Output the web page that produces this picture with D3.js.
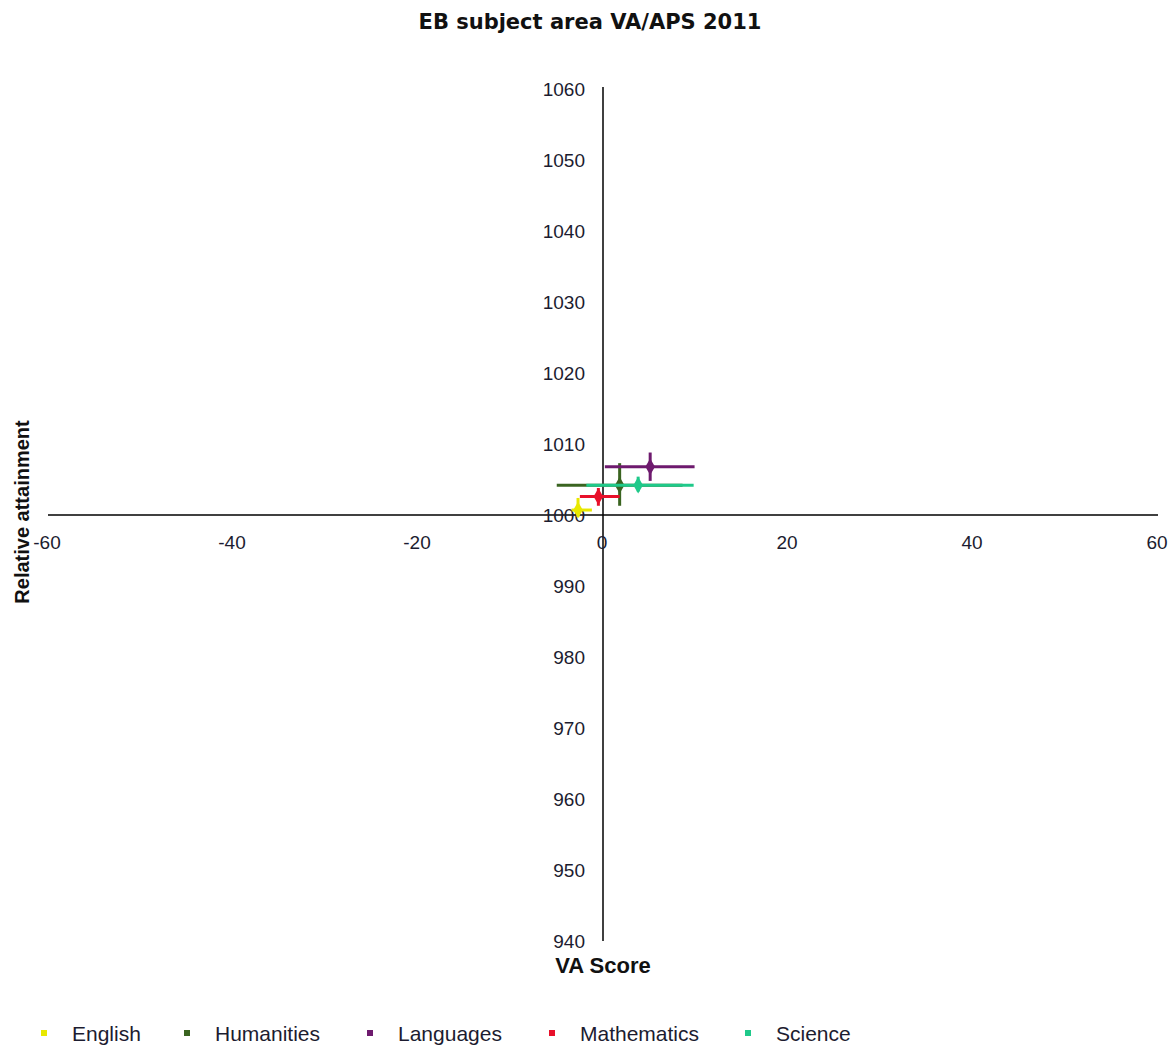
<!DOCTYPE html>
<html><head><meta charset="utf-8">
<script src="https://cdn.jsdelivr.net/npm/d3@7"></script>
<style>body{margin:0;background:#fff}svg{display:block}</style>
</head><body>
<script>
const subjects = ["English","Humanities","Languages","Mathematics","Science"];
const colors = ["#e8e800","#3a6420","#6e1a6e","#e8102a","#1fc98a"];
const vaScore = [-2.7, 1.8, 5.1, -0.5, 3.8];
const attainment = [1000.7, 1004.2, 1006.8, 1002.6, 1004.2];
const vaLow = [-3.4, -5.0, 0.2, -2.5, -1.8];
const vaHigh = [-1.2, 8.6, 9.9, 1.8, 9.8];
const attLow = [999.7, 1001.3, 1004.8, 1001.3, 1003.3];
const attHigh = [1002.4, 1007.3, 1008.8, 1003.8, 1005.4];
const xTicks = [-60,-40,-20,0,20,40,60];
const yTicks = [940,950,960,970,980,990,1000,1010,1020,1030,1040,1050,1060];

const W=1171,H=1047;
const svg=d3.select("body").append("svg").attr("width",W).attr("height",H);
const x=d3.scaleLinear().domain([-60,60]).range([48,1158]);
const y=d3.scaleLinear().domain([940,1060]).range([941,89]);

svg.append("text").attr("x",590).attr("y",29).attr("text-anchor","middle")
 .attr("font-family","DejaVu Sans").attr("font-weight","bold").attr("font-size",21)
 .attr("fill","#111").text("EB subject area VA/APS 2011");

svg.append("line").attr("x1",x(-60)).attr("x2",x(60)).attr("y1",y(1000)).attr("y2",y(1000)).attr("stroke","#000").attr("stroke-width",1.5);
svg.append("line").attr("x1",x(0)).attr("x2",x(0)).attr("y1",y(1060)-2).attr("y2",y(940)).attr("stroke","#000").attr("stroke-width",1.5);

const tf="Liberation Sans";
svg.selectAll(".yt").data(yTicks).enter().append("text")
 .attr("x",x(0)-18).attr("y",d=>y(d)+7).attr("text-anchor","end")
 .attr("font-family",tf).attr("font-size",19).attr("fill","#1c1c30").text(d=>d);
svg.selectAll(".xt").data(xTicks).enter().append("text")
 .attr("x",d=>x(d)-1).attr("y",y(1000)+34).attr("text-anchor","middle")
 .attr("font-family",tf).attr("font-size",19).attr("fill","#1c1c30").text(d=>d);

svg.append("text").attr("x",x(0)).attr("y",973).attr("text-anchor","middle")
 .attr("font-family",tf).attr("font-weight","bold").attr("font-size",22).attr("fill","#111").text("VA Score");
svg.append("text").attr("transform","translate(29,512) rotate(-90)").attr("text-anchor","middle")
 .attr("font-family",tf).attr("font-weight","bold").attr("font-size",20).attr("fill","#111").text("Relative attainment");

const g=svg.append("g");
subjects.forEach((s,i)=>{
  const c=colors[i];
  g.append("line").attr("x1",x(vaLow[i])).attr("x2",x(vaHigh[i])).attr("y1",y(attainment[i])).attr("y2",y(attainment[i])).attr("stroke",c).attr("stroke-width",3);
  g.append("line").attr("x1",x(vaScore[i])).attr("x2",x(vaScore[i])).attr("y1",y(attLow[i])).attr("y2",y(attHigh[i])).attr("stroke",c).attr("stroke-width",3);
  g.append("path").attr("transform",`translate(${x(vaScore[i])},${y(attainment[i])})`)
   .attr("d",d3.symbol(d3.symbolDiamond,80)()).attr("fill",c);
});

const legX=[44,187,370,552,748];
subjects.forEach((s,i)=>{
  svg.append("rect").attr("x",legX[i]-3).attr("y",1030).attr("width",6).attr("height",6).attr("fill",colors[i]);
  svg.append("text").attr("x",legX[i]+28).attr("y",1041).attr("font-family",tf).attr("font-size",21).attr("fill","#1c1c30").text(s);
});
</script>
</body></html>
